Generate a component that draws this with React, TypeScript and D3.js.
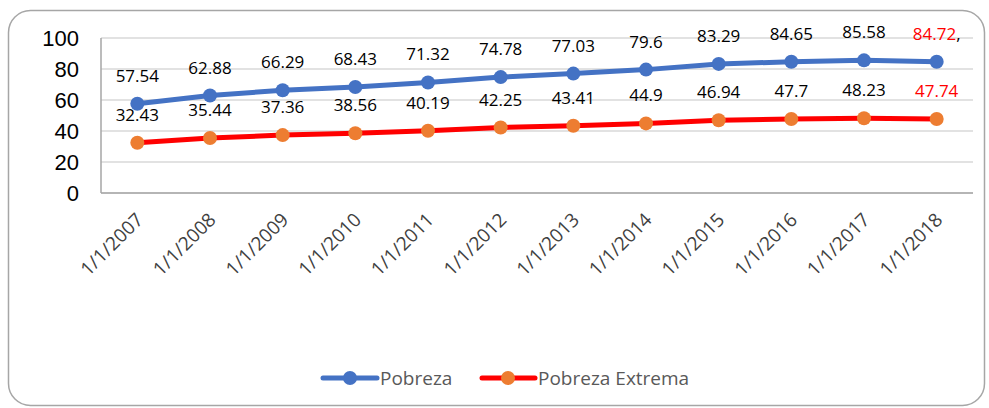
import React from "react";
import * as d3 from "d3";

const categories = ["1/1/2007","1/1/2008","1/1/2009","1/1/2010","1/1/2011","1/1/2012","1/1/2013","1/1/2014","1/1/2015","1/1/2016","1/1/2017","1/1/2018"];
const pobreza = [57.54, 62.88, 66.29, 68.43, 71.32, 74.78, 77.03, 79.6, 83.29, 84.65, 85.58, 84.72];
const extrema = [32.43, 35.44, 37.36, 38.56, 40.19, 42.25, 43.41, 44.9, 46.94, 47.7, 48.23, 47.74];
const yTicks = [0, 20, 40, 60, 80, 100];
const seriesNames = ["Pobreza", "Pobreza Extrema"];

const W = 989, H = 408;
const left = 101, right = 973, top = 38, bottom = 193;

export default function App() {
  const x = d3.scaleBand<string>().domain(categories).range([left, right]).padding(0);
  const cx = (c: string) => (x(c) as number) + x.bandwidth() / 2;
  const y = d3.scaleLinear().domain([0, 100]).range([bottom, top]);
  const line = d3.line<number>().x((_, i) => cx(categories[i])).y((d) => y(d));
  const labelFont = "'Open Sans', 'Noto Sans', sans-serif";
  const last = categories.length - 1;

  return (
    <svg width={W} height={H} style={{ position: "absolute", left: 0, top: 0 }}>
      <rect x={0} y={0} width={W} height={H} fill="#fff" />
      <rect x={8.5} y={10.5} width={976} height={395} rx={22} fill="#fff" stroke="#A6A6A6" strokeWidth={1.5} />
      {yTicks.map((t) => (
        <line key={"g" + t} x1={left} x2={right} y1={y(t)} y2={y(t)} stroke="#D9D9D9" strokeWidth={1.5} />
      ))}
      <line x1={left} x2={left} y1={top} y2={bottom} stroke="#A6A6A6" strokeWidth={1.5} />
      <line x1={left} x2={right} y1={bottom} y2={bottom} stroke="#A6A6A6" strokeWidth={1.5} />
      {yTicks.map((t) => (
        <text key={"y" + t} x={79} y={y(t) + 8} textAnchor="end" fontFamily="'Liberation Sans', Arial, sans-serif" fontSize={22} fill="#000">
          {t}
        </text>
      ))}
      {categories.map((c) => (
        <text key={c} transform={`translate(${cx(c) + 7},${bottom + 28}) rotate(-45)`} textAnchor="end" fontFamily={labelFont} fontSize={19} fill="#404040">
          {c}
        </text>
      ))}
      <path d={line(extrema) as string} fill="none" stroke="#FF0000" strokeWidth={5} strokeLinejoin="round" />
      <path d={line(pobreza) as string} fill="none" stroke="#4472C4" strokeWidth={5} strokeLinejoin="round" />
      {extrema.map((v, i) => (
        <circle key={"e" + i} cx={cx(categories[i])} cy={y(v)} r={7} fill="#ED7D31" />
      ))}
      {pobreza.map((v, i) => (
        <circle key={"p" + i} cx={cx(categories[i])} cy={y(v)} r={7} fill="#4472C4" />
      ))}
      {pobreza.map((v, i) => (
        <text key={"pl" + i} x={cx(categories[i])} y={y(v) - 22} textAnchor="middle" fontFamily={labelFont} fontSize={17} fill={i === last ? "#FF0000" : "#000"}>
          {String(v)}
          {i === last ? <tspan fill="#000">,</tspan> : null}
        </text>
      ))}
      {extrema.map((v, i) => (
        <text key={"el" + i} x={cx(categories[i])} y={y(v) - 22} textAnchor="middle" fontFamily={labelFont} fontSize={17} fill={i === last ? "#FF0000" : "#000"}>
          {String(v)}
        </text>
      ))}
      <g>
        <line x1={323} x2={377} y1={378} y2={378} stroke="#4472C4" strokeWidth={5} strokeLinecap="round" />
        <circle cx={350} cy={378} r={7} fill="#4472C4" />
        <text x={380} y={385} fontFamily={labelFont} fontSize={19} fill="#595959">{seriesNames[0]}</text>
        <line x1={482} x2={535} y1={378} y2={378} stroke="#FF0000" strokeWidth={5} strokeLinecap="round" />
        <circle cx={508} cy={378} r={7} fill="#ED7D31" />
        <text x={538} y={385} fontFamily={labelFont} fontSize={19} fill="#595959">{seriesNames[1]}</text>
      </g>
    </svg>
  );
}
